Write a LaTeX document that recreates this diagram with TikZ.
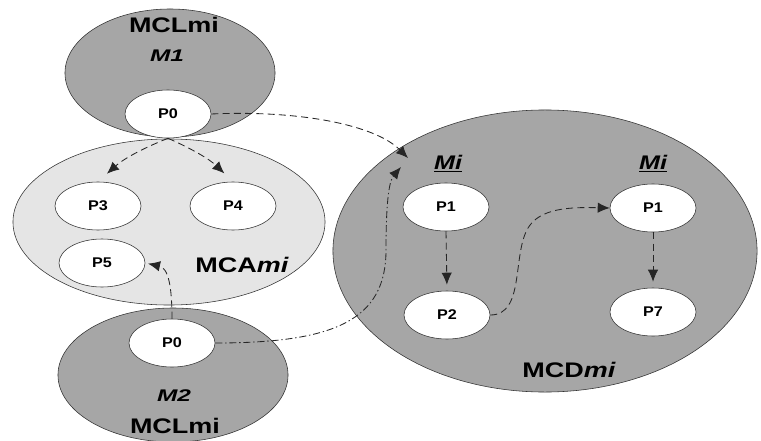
\documentclass[tikz,border=0pt]{standalone}
\usepackage{fontspec}
\setmainfont{Liberation Sans}
\usetikzlibrary{shapes.geometric,arrows.meta}

\tikzset{
  modl/.style={ellipse,draw=black!80,fill=black!35,inner sep=0pt},
  proc/.style={ellipse,draw=black!80,fill=white,minimum width=2.15cm,
    minimum height=1.2cm,inner sep=0pt,font=\bfseries\fontsize{10}{10}\selectfont},
  big/.style={anchor=base,inner sep=0pt,font=\bfseries\fontsize{15}{15}\selectfont},
  tag/.style={anchor=base,inner sep=0pt,font=\bfseries\itshape\fontsize{12}{12}\selectfont},
  flow/.style={draw=black!85,line width=0.6pt,dash pattern=on 5pt off 3pt,
    -{Latex[length=3mm,width=2.6mm]}}
}
\newcommand{\wide}[2][1.28]{\scalebox{#1}[1]{#2}}

\begin{document}
\begin{tikzpicture}[x=0.025cm,y=-0.025cm]
  \useasboundingbox (0,0) rectangle (761,440);
  % modules
  \node[modl,minimum width=5.25cm,minimum height=3.2cm] (m1) at (170,73) {};
  \node[modl,minimum width=5.75cm,minimum height=3.35cm] (m2) at (173,375) {};
  \node[modl,fill=black!10,minimum width=7.8cm,minimum height=4.15cm] (mca) at (169,222) {};
  \node[modl,minimum width=10.6cm,minimum height=7.05cm] (mcd) at (545,251) {};
  % labels
  \node[big] at (174,33) {\wide{MCLmi}};
  \node[tag] at (167,62) {\wide[1.45]{M1}};
  \node[tag] at (174,401) {\wide[1.45]{M2}};
  \node[big] at (175,433) {\wide{MCLmi}};
  \node[big] at (242,272) {\wide{MCA\textit{mi}}};
  \node[big] at (569,377) {\wide{MCD\textit{mi}}};
  \node[tag,font=\bfseries\itshape\fontsize{14}{14}\selectfont] at (448,169) {\wide{\underline{Mi}}};
  \node[tag,font=\bfseries\itshape\fontsize{14}{14}\selectfont] at (653,169) {\wide{\underline{Mi}}};
  % processes
  \foreach \n/\pos/\t in {p0a/{168,114}/P0,p3/{98,206}/P3,p4/{233,206}/P4,
    p5/{102,263}/P5,p0b/{172,343}/P0,p1a/{446,207}/P1,p2/{447,315}/P2,
    p1b/{653,208}/P1,p7/{653,312}/P7}
  \node[proc] (\n) at (\pos) {\wide[1.15]{\t}};
  % connectors
  \coordinate (tipa) at (408,158);
  \coordinate (tipb) at (401,167);
  \draw[flow] (p0a.east) .. controls (300,110) and (375,125) .. (tipa);
  \draw[flow,dash pattern=on 5pt off 2pt on 1pt off 2pt] (p0b.east)
    .. controls (335,343) and (386,320) .. (386,250)
    .. controls (386,195) and (390,180) .. (tipb);
  \draw[flow,shorten >=0.3cm] (p0a.south) to[bend right=10] (p3.north);
  \draw[flow,shorten >=0.3cm] (p0a.south) to[bend left=10] (p4.north);
  \draw[flow,shorten >=2pt] (p0b.north) .. controls (172,285) and (168,268) .. (p5.east);
  \draw[flow,shorten >=0.15cm] (p1a.south) -- (p2.north);
  \draw[flow] (p2.east) .. controls (525,315) and (512,255) .. (528,228)
    .. controls (540,208) and (570,207) .. (p1b.west);
  \draw[flow,shorten >=0.15cm] (p1b.south) -- (p7.north);
\end{tikzpicture}
\end{document}
